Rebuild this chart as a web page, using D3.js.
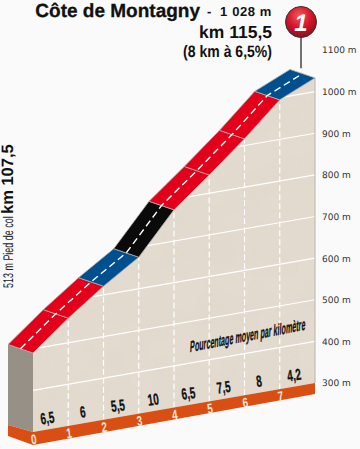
<!DOCTYPE html>
<html>
<head>
<meta charset="utf-8">
<script src="https://d3js.org/d3.v7.min.js"></script>
<style>
  html, body { margin: 0; padding: 0; background: #fafafa; }
  svg { display: block; }
  text { font-family: "Liberation Sans", Arial, sans-serif; }
  .gras { stroke: #111; stroke-width: 0.3; }
</style>
</head>
<body>
<div id="profil"></div>
<script>
// Valeurs
const kms = [0, 1, 2, 3, 4, 5, 6, 7, 8];
const altitudes = [490, 559, 621, 676, 775, 844, 916, 995, 1033];
const pentes = ["6,5", "6", "5,5", "10", "6,5", "7,5", "8", "4,2"];
const altTicks = [300, 400, 500, 600, 700, 800, 900, 1000, 1100];

const width = 360, height = 449;
const skew = 0.174;              // pente de la perspective
const back = { x: -25, y: -8.5 }; // décalage de l'arête arrière
const baseAlt = 300;

const svg = d3.select("#profil").append("svg")
    .attr("width", width)
    .attr("height", height)
    .style("text-rendering", "geometricPrecision");

// Échelles
const x = d3.scaleLinear().domain([0, 8]).range([33, 315]);
const y = d3.scaleLinear().domain([300, 1100]).range([383, 50]);
const couleur = d3.scaleThreshold().domain([6, 9]).range(["#00508f", "#e2001a", "#0a0a0a"]);

const py = (km, alt) => y(alt) + (x(8) - x(km)) * skew;
const pt = (km, alt) => [x(km), py(km, alt)];
const ptBack = (km, alt) => [x(km) + back.x, py(km, alt) + back.y];
const num = s => +s.replace(",", ".");
const line = d3.line();

const defs = svg.append("defs");

// Texture légère du terrain
const filter = defs.append("filter").attr("id", "texture")
    .attr("x", 0).attr("y", 0).attr("width", "100%").attr("height", "100%");
filter.append("feTurbulence")
    .attr("type", "fractalNoise").attr("baseFrequency", 0.03).attr("numOctaves", 3).attr("seed", 7);
filter.append("feColorMatrix").attr("type", "matrix")
    .attr("values", "0 0 0 0 0.70  0 0 0 0 0.64  0 0 0 0 0.56  0 0 0 1.3 -0.5");

const grad = defs.append("radialGradient").attr("id", "boule")
    .attr("cx", "45%").attr("cy", "30%").attr("r", "70%");
grad.append("stop").attr("offset", "0%").attr("stop-color", "#f25a5a");
grad.append("stop").attr("offset", "55%").attr("stop-color", "#d3142a");
grad.append("stop").attr("offset", "100%").attr("stop-color", "#8e0f1c");

// Terrain
const terrain = kms.map((k, i) => pt(k, altitudes[i]))
    .concat([pt(8, baseAlt), pt(0, baseAlt)]);

defs.append("clipPath").attr("id", "clip-terrain")
    .append("path").attr("d", line(terrain) + "Z");

svg.append("path")
    .attr("d", line(terrain) + "Z")
    .attr("fill", "#e3dbcf");

const dansTerrain = svg.append("g").attr("clip-path", "url(#clip-terrain)");

dansTerrain.append("rect")
    .attr("x", x(0)).attr("y", y(1100))
    .attr("width", x(8) - x(0)).attr("height", 400)
    .attr("filter", "url(#texture)")
    .attr("opacity", 0.3);

// Lignes d'altitude
dansTerrain.selectAll(".grille")
    .data(altTicks.filter(a => a > 300 && a < 1100))
    .enter()
    .append("path")
    .attr("class", "grille")
    .attr("d", a => line([pt(0, a), pt(8, a)]))
    .attr("stroke", "#fff")
    .attr("stroke-width", 1.2)
    .attr("fill", "none");

// Verticales de chaque kilomètre
svg.selectAll(".km-trait")
    .data(kms.slice(1, 8))
    .enter()
    .append("line")
    .attr("class", "km-trait")
    .attr("x1", d => x(d)).attr("x2", d => x(d))
    .attr("y1", d => py(d, baseAlt))
    .attr("y2", d => py(d, altitudes[d]))
    .attr("stroke", "#fff")
    .attr("stroke-width", 1.2)
    .attr("stroke-dasharray", "6 3");

// Bord droit
svg.append("path")
    .attr("d", line([pt(8, altitudes[8]), pt(8, baseAlt)]))
    .attr("stroke", "#b9b4ab")
    .attr("fill", "none");

// Mur gauche
svg.append("path")
    .attr("d", line([ptBack(0, altitudes[0]), pt(0, altitudes[0]), pt(0, baseAlt), [x(0) + back.x, py(0, baseAlt) - 7]]) + "Z")
    .attr("fill", "#979087");

// Bande orange du bas
const bande = 12;
svg.append("path")
    .attr("d", line([
        [x(0) + back.x, py(0, baseAlt) - 7],
        pt(0, baseAlt),
        pt(8, baseAlt),
        [x(8), py(8, baseAlt) + bande - 1],
        [x(0), py(0, baseAlt) + bande + 1],
        [x(0) + back.x, py(0, baseAlt) + 4]
    ]) + "Z")
    .attr("fill", "#d94e12");

// Route, un segment par kilomètre
svg.selectAll(".route")
    .data(pentes)
    .enter()
    .append("path")
    .attr("class", "route")
    .attr("d", (d, i) => line([
        ptBack(kms[i], altitudes[i]),
        ptBack(kms[i + 1], altitudes[i + 1]),
        pt(kms[i + 1], altitudes[i + 1]),
        pt(kms[i], altitudes[i])
    ]) + "Z")
    .attr("fill", d => couleur(num(d)))
    .attr("stroke", "#b5b0a8")
    .attr("stroke-width", 0.8);

// Axe central de la route
svg.append("path")
    .attr("d", line(kms.map((k, i) => {
        const a = pt(k, altitudes[i]), b = ptBack(k, altitudes[i]);
        return [(a[0] + b[0]) / 2, (a[1] + b[1]) / 2];
    })))
    .attr("fill", "none")
    .attr("stroke", "#fff")
    .attr("stroke-width", 1.4)
    .attr("stroke-dasharray", "7 4");

// Pourcentages
svg.selectAll(".pente")
    .data(pentes)
    .enter()
    .append("text")
    .attr("class", "pente gras")
    .attr("transform", (d, i) => `translate(${x(kms[i] + 0.43)},${py(kms[i] + 0.43, baseAlt) - 6}) rotate(-8) scale(0.62,1)`)
    .attr("text-anchor", "middle")
    .attr("font-size", 16)
    .attr("font-weight", "bold")
    .attr("fill", "#111")
    .text(d => d);

// Numéros des kilomètres
svg.selectAll(".km")
    .data(kms.slice(0, 8))
    .enter()
    .append("text")
    .attr("class", "km")
    .attr("transform", d => `translate(${x(d) + 1.5},${py(d, baseAlt) + 12}) rotate(-8) scale(0.7,1)`)
    .attr("text-anchor", "middle")
    .attr("font-size", 14)
    .attr("font-weight", "bold")
    .attr("fill", "#f9e8dc")
    .text(d => d);

// Axe des altitudes
const axe = svg.append("g")
    .attr("transform", "translate(322,0)")
    .call(d3.axisRight(y).tickValues(altTicks).tickSize(0).tickPadding(0).tickFormat(d => d + " m"));
axe.select(".domain").remove();
axe.selectAll("text")
    .style("font-family", "'DejaVu Sans', sans-serif")
    .style("font-size", "9px")
    .attr("fill", "#333");

svg.append("text")
    .attr("class", "gras")
    .attr("transform", `translate(${x(4.45)},${py(4.45, 400) - 11}) rotate(-11) skewX(-14) scale(0.47,1)`)
    .attr("font-size", 15.5)
    .attr("font-weight", "bold")
    .attr("fill", "#111")
    .text("Pourcentage moyen par kilomètre");

// Titre
svg.append("text")
    .attr("class", "gras")
    .attr("x", 200).attr("y", 17)
    .attr("text-anchor", "end")
    .attr("font-size", 19)
    .attr("font-weight", "bold")
    .attr("fill", "#111")
    .text("Côte de Montagny");
svg.append("text")
    .attr("x", 207).attr("y", 16)
    .attr("font-size", 13)
    .attr("font-weight", "bold")
    .attr("fill", "#111")
    .text("-");
svg.append("text")
    .attr("x", 272).attr("y", 16)
    .attr("text-anchor", "end")
    .attr("font-size", 13)
    .attr("font-weight", "bold")
    .attr("letter-spacing", 0.6)
    .attr("fill", "#111")
    .text("1 028 m");

svg.append("text")
    .attr("x", 272).attr("y", 38)
    .attr("text-anchor", "end")
    .attr("font-size", 17.5)
    .attr("font-weight", "bold")
    .attr("fill", "#111")
    .text("km 115,5");

svg.append("text")
    .attr("transform", "translate(272,57) scale(0.85,1)")
    .attr("text-anchor", "end")
    .attr("font-size", 16.5)
    .attr("font-weight", "bold")
    .attr("fill", "#111")
    .text("(8 km à 6,5%)");

// Texte vertical à gauche
const gauche = svg.append("g").attr("transform", "translate(13,288) rotate(-90)");
gauche.append("text")
    .attr("transform", "scale(0.64,1)")
    .attr("font-size", 14)
    .attr("fill", "#222")
    .text("513 m Pied de col");
gauche.append("text")
    .attr("x", 74)
    .attr("font-size", 16.5)
    .attr("font-weight", "bold")
    .attr("fill", "#111")
    .text("km 107,5");

// Marqueur du sommet
svg.append("line")
    .attr("x1", 301).attr("x2", 301)
    .attr("y1", 36).attr("y2", py(7.6, altitudes[8]) - 12)
    .attr("stroke", "#444")
    .attr("stroke-width", 1.5);
svg.append("circle")
    .attr("cx", 301).attr("cy", 22).attr("r", 15.5)
    .attr("fill", "url(#boule)")
    .attr("stroke", "#333")
    .attr("stroke-width", 1);
svg.append("text")
    .attr("x", 301).attr("y", 31)
    .attr("text-anchor", "middle")
    .attr("font-size", 24)
    .attr("font-weight", "bold")
    .attr("font-style", "italic")
    .attr("fill", "#fff")
    .text("1");
</script>
</body>
</html>
